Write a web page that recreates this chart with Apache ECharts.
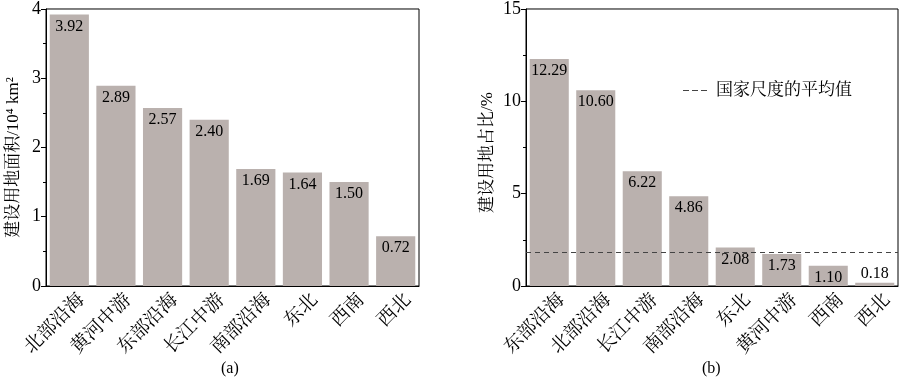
<!DOCTYPE html>
<html><head><meta charset="utf-8">
<script src="https://cdn.jsdelivr.net/npm/echarts@6/dist/echarts.min.js"></script>
<style>html,body{margin:0;padding:0;background:#fff}#c{width:900px;height:380px}</style>
</head><body><div id="c"></div>
<script>
var catsA = ['北部沿海','黄河中游','东部沿海','长江中游','南部沿海','东北','西南','西北'];
var valsA = [3.92, 2.89, 2.57, 2.40, 1.69, 1.64, 1.50, 0.72];
var catsB = ['东部沿海','北部沿海','长江中游','南部沿海','东北','黄河中游','西南','西北'];
var valsB = [12.29, 10.60, 6.22, 4.86, 2.08, 1.73, 1.10, 0.18];
var nationalAvg = 1.83;
var yTicksA = {min:0, max:4, interval:1};
var yTicksB = {min:0, max:15, interval:5};

var FONT = "'Liberation Serif','Noto Serif CJK SC','Noto Sans CJK SC',serif";
var barColor = '#bab1ae';

function barData(vals, thr){
  return vals.map(function(v){
    if (v < thr) return {value:v, label:{position:'top', distance:1}};
    return v;
  });
}
function xAx(idx, cats){
  return {type:'category', gridIndex:idx, data:cats,
    axisLine:{lineStyle:{color:'#000', width:1}},
    axisTick:{inside:true, length:4, lineStyle:{color:'#000'}},
    axisLabel:{rotate:45, color:'#000', fontSize:19, fontFamily:FONT, margin:10,
      verticalAlign:'top', padding:[0,-8,0,0]}};
}
function yAx(idx, t, name, gap, shift){
  return {type:'value', gridIndex:idx, min:t.min, max:t.max, interval:t.interval,
    name:name, nameLocation:'middle', nameGap:gap,
    nameTextStyle:{color:'#000', fontSize:17, fontFamily:FONT, padding:[0,shift,0,0]},
    axisLine:{show:true, lineStyle:{color:'#000', width:1}},
    axisTick:{show:true, length:5, lineStyle:{color:'#000'}},
    minorTick:{show:true, splitNumber:2, length:3, lineStyle:{color:'#000'}},
    splitLine:{show:false},
    axisLabel:{color:'#000', fontSize:18, fontFamily:FONT, margin:5}};
}
var labelCfg = {show:true, position:'insideTop', distance:4, color:'#000', fontSize:16, fontFamily:FONT,
  formatter:function(p){return p.value.toFixed(2);}};

var chart = echarts.init(document.getElementById('c'), null, {renderer:'canvas'});
chart.setOption({
  animation:false,
  title:[
    {text:'(a)', left:216, top:356, textStyle:{fontSize:16, fontWeight:'normal', fontFamily:FONT, color:'#000'}},
    {text:'(b)', left:697, top:356, textStyle:{fontSize:16, fontWeight:'normal', fontFamily:FONT, color:'#000'}}
  ],
  legend:{data:[{name:'国家尺度的平均值',
      icon:'path://M0,0L6,0L6,1L0,1ZM9,0L15,0L15,1L9,1ZM18,0L24,0L24,1L18,1Z'}],
    left:678, top:77, itemWidth:24, itemHeight:1.3, itemGap:10,
    textStyle:{fontSize:17, fontFamily:FONT, color:'#000', padding:[0,0,0,4]}},
  grid:[
    {left:46, right:481, top:7, bottom:94, show:true, borderColor:'#000', borderWidth:1},
    {left:526, right:2, top:7, bottom:94, show:true, borderColor:'#000', borderWidth:1}
  ],
  xAxis:[xAx(0, catsA), xAx(1, catsB)],
  yAxis:[yAx(0, yTicksA, '建设用地面积/10⁴ km²', 24, 20), yAx(1, yTicksB, '建设用地占比/%', 30, 10)],
  series:[
    {type:'bar', xAxisIndex:0, yAxisIndex:0, data:barData(valsA, 0.3), barCategoryGap:'16%',
      itemStyle:{color:barColor}, label:labelCfg},
    {type:'bar', xAxisIndex:1, yAxisIndex:1, data:barData(valsB, 0.8), barCategoryGap:'16%',
      itemStyle:{color:barColor}, label:labelCfg},
    {type:'line', name:'国家尺度的平均值', xAxisIndex:1, yAxisIndex:1, data:[], symbol:'none',
      lineStyle:{color:'#444', width:1.2, type:[5,4]}, itemStyle:{color:'#444'},
      markLine:{silent:true, symbol:'none', label:{show:false},
        lineStyle:{color:'#444', width:1.2, type:[5,4]}, data:[{yAxis:nationalAvg}]}}
  ]
});
</script></body></html>
